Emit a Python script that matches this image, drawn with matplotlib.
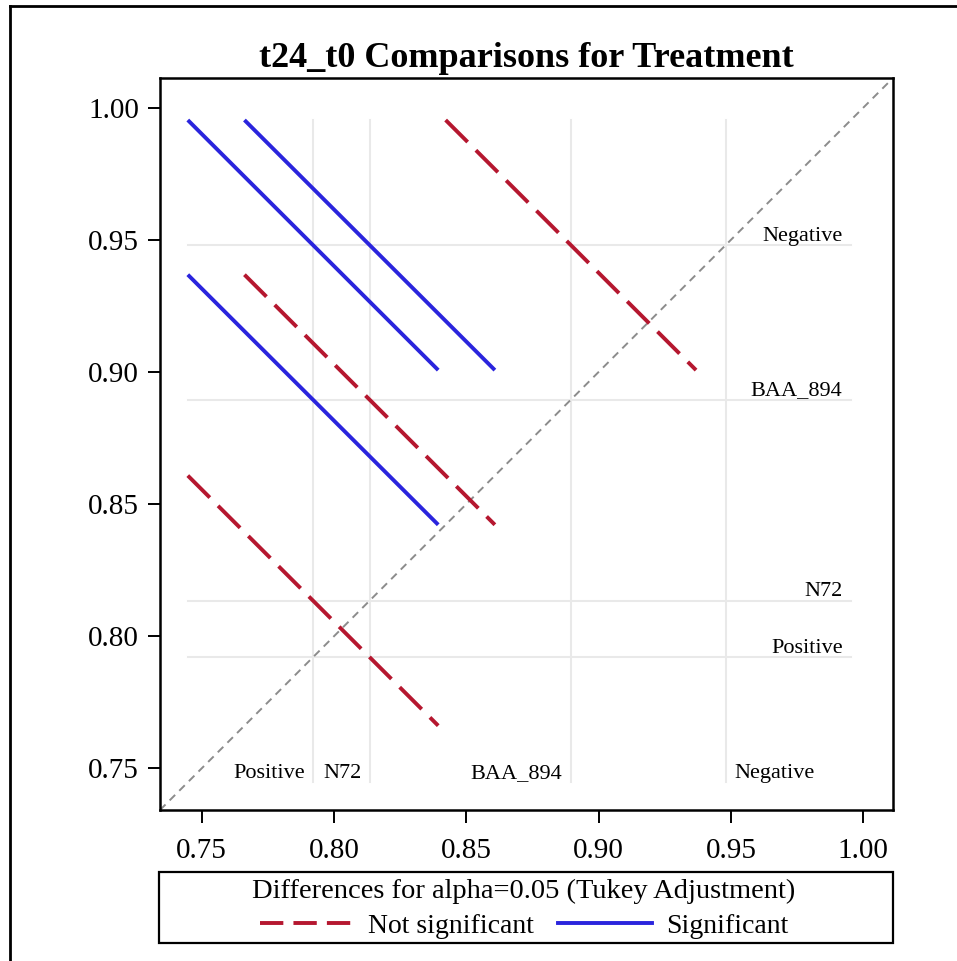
import numpy as np
import matplotlib.pyplot as plt
from matplotlib.lines import Line2D
from matplotlib.patches import Rectangle

plt.rcParams["font.family"] = ["Liberation Serif", "DejaVu Serif"]

# ===========================
# Data
# ===========================
groups = ["Positive", "N72", "BAA_894", "Negative"]
means = [0.7921, 0.8135, 0.8895, 0.9480]

# pairwise comparisons: x group, y group, half extent of segment, significant?
cmp_x = ["Positive", "N72", "BAA_894", "Positive", "N72", "Positive"]
cmp_y = ["Negative", "Negative", "Negative", "BAA_894", "BAA_894", "N72"]
cmp_half = [0.0473, 0.0473, 0.0473, 0.0473, 0.0473, 0.0473]
cmp_sig = [True, True, False, True, False, False]

# which side of the reference line the bottom labels sit on
label_side = ["left", "left", "left", "right"]

xticks = [0.75, 0.80, 0.85, 0.90, 0.95, 1.00]
lims = (0.7343, 1.0112)

colors = {
    "ns": "#B5172F",
    "sig": "#2A24DD",
    "grid": "#E9E9E9",
    "diag": "#8C8C8C",
}

mean_of = dict(zip(groups, means))

# ===========================
# Figure
# ===========================
fig = plt.figure(figsize=(9.57, 9.61), dpi=100)
ax = fig.add_axes([160 / 957, 1 - 810 / 961, 733 / 957, 732 / 961])

seg_lo = min(mean_of[g] - h for g, h in zip(cmp_x, cmp_half))
seg_hi = max(mean_of[g] + h for g, h in zip(cmp_y, cmp_half))

# reference lines at each mean
for m in means:
    ax.plot([m, m], [seg_lo, seg_hi], color=colors["grid"], lw=1.5, zorder=1)
    ax.plot([seg_lo, seg_hi], [m, m], color=colors["grid"], lw=1.5, zorder=1)

# diagonal
ax.plot(lims, lims, color=colors["diag"], lw=1.4, ls=(0, (4, 3)), zorder=2)

# comparison segments
for gx, gy, h, sig in zip(cmp_x, cmp_y, cmp_half, cmp_sig):
    cx, cy = mean_of[gx], mean_of[gy]
    if sig:
        ax.plot([cx - h, cx + h], [cy + h, cy - h], color=colors["sig"],
                lw=2.8, solid_capstyle="butt", zorder=3)
    else:
        ax.plot([cx - h, cx + h], [cy + h, cy - h], color=colors["ns"],
                lw=2.8, ls=(0, (8, 3)), zorder=3)

# group labels
for g, m, side in zip(groups, means, label_side):
    dx = -6 if side == "left" else 6
    ax.annotate(g, (m, seg_lo), xytext=(dx, 3), textcoords="offset points",
                ha="right" if side == "left" else "left", va="baseline",
                fontsize=16)
    ax.annotate(g, (seg_hi, m), xytext=(-6, 3), textcoords="offset points",
                ha="right", va="baseline", fontsize=16)

ax.set_xlim(lims)
ax.set_ylim(lims)
ax.set_xticks(xticks)
ax.set_yticks(xticks)
ax.set_xticklabels([f"{t:.2f}" for t in xticks])
ax.set_yticklabels([f"{t:.2f}" for t in xticks])
ax.tick_params(axis="both", labelsize=21, length=9, width=1.4)
ax.tick_params(axis="x", pad=11)
ax.tick_params(axis="y", pad=6)
for sp in ax.spines.values():
    sp.set_linewidth(1.8)

ax.set_title("t24_t0 Comparisons for Treatment", fontsize=26,
             fontweight="bold", pad=8)

# ===========================
# Legend
# ===========================
box = Rectangle((159 / 957, 1 - 943 / 961), 734 / 957, 71 / 961,
                transform=fig.transFigure, fill=False, edgecolor="black",
                lw=1.6)
fig.patches.append(box)

handles = [
    Line2D([0], [0], color=colors["ns"], lw=2.8, ls=(0, (6, 2.6)),
           label="Not significant"),
    Line2D([0], [0], color=colors["sig"], lw=2.8, label="Significant"),
]
leg = fig.legend(handles=handles, loc="center",
                 bbox_to_anchor=(524 / 957, 1 - 909 / 961), ncol=2,
                 frameon=False, fontsize=20,
                 title="Differences for alpha=0.05 (Tukey Adjustment)",
                 title_fontsize=20.5, handlelength=3.4, handletextpad=0.5,
                 columnspacing=0.85, borderpad=0.0, labelspacing=0.2)
leg._legend_box.sep = 7

# outer border (left and top visible)
fig.add_artist(Line2D([10 / 957, 10 / 957], [0, 1 - 6 / 961],
                      transform=fig.transFigure, color="black", lw=2))
fig.add_artist(Line2D([10 / 957, 1], [1 - 6 / 961, 1 - 6 / 961],
                      transform=fig.transFigure, color="black", lw=2))

fig.savefig("out.png", dpi=100)
